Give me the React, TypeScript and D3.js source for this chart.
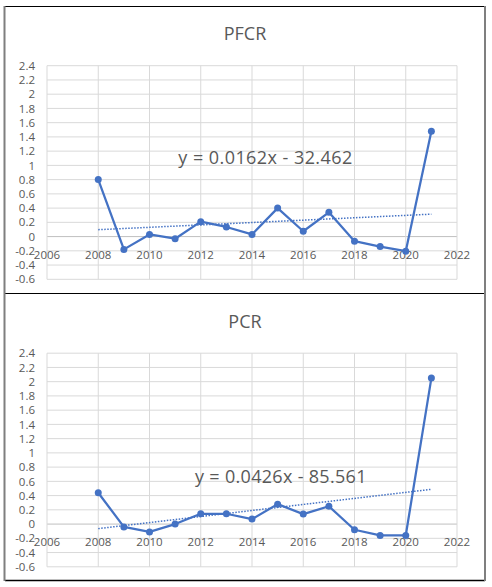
import React from "react";
import * as d3 from "d3";

const years = [2008, 2009, 2010, 2011, 2012, 2013, 2014, 2015, 2016, 2017, 2018, 2019, 2020, 2021];
const pfcrValues = [0.8, -0.18, 0.03, -0.03, 0.21, 0.135, 0.03, 0.4, 0.075, 0.34, -0.065, -0.14, -0.205, 1.48];
const pcrValues = [0.44, -0.04, -0.11, 0.0, 0.145, 0.145, 0.07, 0.28, 0.14, 0.25, -0.08, -0.16, -0.16, 2.05];
const xTicks = [2006, 2008, 2010, 2012, 2014, 2016, 2018, 2020, 2022];
const yTicks = [-0.6, -0.4, -0.2, 0, 0.2, 0.4, 0.6, 0.8, 1, 1.2, 1.4, 1.6, 1.8, 2, 2.2, 2.4];
const titles = ["PFCR", "PCR"];
const equations = ["y = 0.0162x - 32.462", "y = 0.0426x - 85.561"];

const W = 492;
const H = 587;
const BLUE = "#4472C4";
const TEXT = "#595959";
const GRID = "#d9d9d9";
const FONT = "'Open Sans', 'Noto Sans', sans-serif";

function fmt(v: number) {
  const r = Math.round(v * 10) / 10;
  return String(r === 0 ? 0 : r);
}

function regression(xs: number[], ys: number[]) {
  const mx = d3.mean(xs) as number;
  const my = d3.mean(ys) as number;
  let num = 0;
  let den = 0;
  xs.forEach((x, i) => {
    num += (x - mx) * (ys[i] - my);
    den += (x - mx) * (x - mx);
  });
  const slope = num / den;
  return { slope, intercept: my - slope * mx };
}

type PanelProps = {
  top: number;
  title: string;
  values: number[];
  equation: string;
  eqX: number;
  eqY: number;
  eqW: number;
};

function Panel({ top, title, values, equation, eqX, eqY, eqW }: PanelProps) {
  const x = d3.scaleLinear().domain([2006, 2022]).range([47, 457]);
  const y = d3.scaleLinear().domain([-0.6, 2.4]).range([top + 273.3, top + 59.7]);
  const pts = years.map((yr, i) => [yr, values[i]] as [number, number]);
  const line = d3
    .line<[number, number]>()
    .x((d) => x(d[0]))
    .y((d) => y(d[1]));
  const { slope, intercept } = regression(years, values);
  const x0 = years[0];
  const x1 = years[years.length - 1];
  const y0 = y(0);
  return (
    <g>
      <text x={245} y={top + 34} textAnchor="middle" fontSize={18} fill={TEXT} fontFamily={FONT}>
        {title}
      </text>
      {yTicks.map((t) => (
        <line
          key={"h" + t}
          x1={x(2006)}
          x2={x(2022)}
          y1={y(t)}
          y2={y(t)}
          stroke={t === 0 ? "#bfbfbf" : GRID}
          strokeWidth={1}
        />
      ))}
      {xTicks.map((t) => (
        <line key={"v" + t} x1={x(t)} x2={x(t)} y1={y(-0.6)} y2={y(2.4)} stroke={GRID} strokeWidth={1} />
      ))}
      {yTicks.map((t) => (
        <text
          key={"yl" + t}
          x={35}
          y={y(t)}
          dy="0.36em"
          textAnchor="end"
          fontSize={11.5}
          fill={TEXT}
          fontFamily={FONT}
        >
          {fmt(t)}
        </text>
      ))}
      {xTicks.map((t) => (
        <text
          key={"xl" + t}
          x={x(t)}
          y={y0 + 22}
          textAnchor="middle"
          fontSize={11.5}
          fill={TEXT}
          fontFamily={FONT}
        >
          {t}
        </text>
      ))}
      <line
        x1={x(x0)}
        y1={y(slope * x0 + intercept)}
        x2={x(x1)}
        y2={y(slope * x1 + intercept)}
        stroke={BLUE}
        strokeWidth={1.5}
        strokeDasharray="1.5 1.5"
      />
      <path d={line(pts) || ""} fill="none" stroke={BLUE} strokeWidth={2.25} strokeLinejoin="round" />
      {pts.map((p) => (
        <circle key={"c" + p[0]} cx={x(p[0])} cy={y(p[1])} r={3.5} fill={BLUE} />
      ))}
      <text
        x={eqX}
        y={eqY}
        fontSize={18}
        fill={TEXT}
        fontFamily={FONT}
        textLength={eqW}
        lengthAdjust="spacing"
        xmlSpace="preserve"
      >
        {equation}
      </text>
    </g>
  );
}

export default function App() {
  return (
    <svg
      width={W}
      height={H}
      viewBox={`0 0 ${W} ${H}`}
      style={{ position: "absolute", left: 0, top: 0, background: "#fff" }}
    >
      <rect x={0} y={0} width={W} height={H} fill="#fff" />
      <Panel top={6} title={titles[0]} values={pfcrValues} equation={equations[0]} eqX={178.3} eqY={164} eqW={174} />
      <Panel top={293.5} title={titles[1]} values={pcrValues} equation={equations[1]} eqX={195} eqY={483.3} eqW={171.5} />
      <line x1={5} x2={485} y1={6.5} y2={6.5} stroke="#000" strokeWidth={1} />
      <line x1={5} x2={485} y1={293.5} y2={293.5} stroke="#000" strokeWidth={1} />
      <line x1={5} x2={485} y1={580.5} y2={580.5} stroke="#000" strokeWidth={1.5} />
      <line x1={4.5} x2={4.5} y1={6} y2={581} stroke="#7f7f7f" strokeWidth={2} />
      <line x1={485} x2={485} y1={6} y2={581} stroke="#7f7f7f" strokeWidth={2} />
    </svg>
  );
}
